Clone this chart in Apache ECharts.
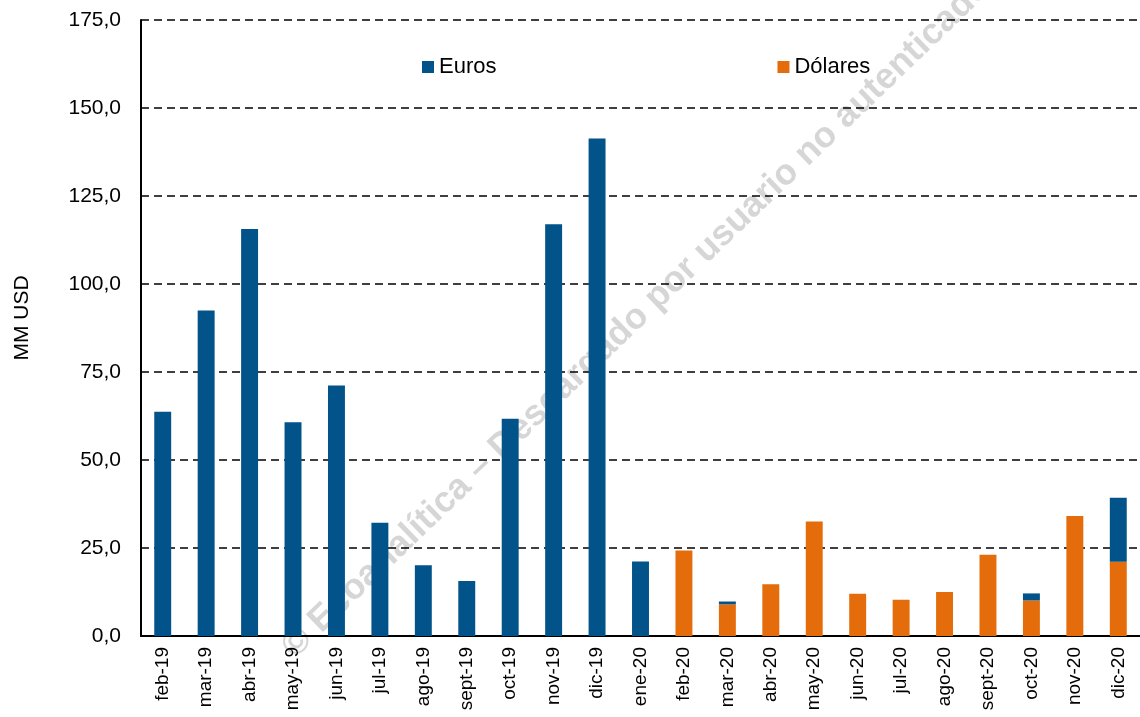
<!DOCTYPE html>
<html>
<head>
<meta charset="utf-8">
<title>Euros y Dólares</title>
<script src="https://cdn.jsdelivr.net/npm/echarts@6/dist/echarts.min.js"></script>
<style>
  html, body { margin: 0; padding: 0; background: #fff; }
  #chart { width: 1140px; height: 717px; }
</style>
</head>
<body>
<div id="chart"></div>
<script>
// meses, feb-19 a dic-20
const categories = ['feb-19', 'mar-19', 'abr-19', 'may-19', 'jun-19', 'jul-19', 'ago-19', 'sept-19',
  'oct-19', 'nov-19', 'dic-19', 'ene-20', 'feb-20', 'mar-20', 'abr-20', 'may-20', 'jun-20',
  'jul-20', 'ago-20', 'sept-20', 'oct-20', 'nov-20', 'dic-20']

// MM USD
const euros = [63.7, 92.5, 115.6, 60.7, 71.2, 32.2, 20.1, 15.6, 61.7, 117.0, 141.3, 21.2,
  0, 0.8, 0, 0, 0, 0, 0, 0, 2.0, 0, 18.2]
const dolares = [0, 0, 0, 0, 0, 0, 0, 0, 0, 0, 0, 0,
  24.3, 9.0, 14.7, 32.5, 12.0, 10.3, 12.5, 23.1, 10.1, 34.1, 21.1]

const yTicks = { min: 0, max: 175, interval: 25 }

const font = 'Liberation Sans, Arial, sans-serif'

let option = {
  backgroundColor: '#fff',
  animation: false,
  textStyle: { fontFamily: font },
  graphic: [
    {
      // marca de agua
      type: 'text',
      z: 0,
      x: 288,
      y: 652,
      rotation: 0.765,
      style: {
        text: '© Ecoanalítica – Descargado por usuario no autenticado',
        fill: '#d6d6d6',
        font: 'bold 36px ' + font,
        textAlign: 'left',
        textVerticalAlign: 'middle'
      }
    }
  ],
  legend: {
    data: ['Euros', 'Dólares'],
    left: 422,
    top: 56,
    padding: 0,
    itemWidth: 12,
    itemHeight: 12,
    itemGap: 281,
    icon: 'rect',
    textStyle: { fontSize: 22, color: '#000', fontFamily: font }
  },
  grid: {
    left: 141,
    right: -6,
    top: 20,
    bottom: 81
  },
  xAxis: {
    type: 'category',
    data: categories,
    axisLine: { lineStyle: { color: '#000', width: 2 } },
    axisTick: { show: false },
    axisLabel: {
      rotate: 90,
      margin: 11,
      fontSize: 19,
      color: '#000',
      interval: 0
    }
  },
  yAxis: {
    type: 'value',
    min: yTicks.min,
    max: yTicks.max,
    interval: yTicks.interval,
    name: 'MM USD',
    nameLocation: 'middle',
    nameGap: 108,
    nameTextStyle: { fontSize: 21, color: '#000', padding: [0, 0, 0, 20] },
    axisLine: { show: true, lineStyle: { color: '#000', width: 2 } },
    axisTick: { show: false },
    axisLabel: {
      fontSize: 21,
      color: '#000',
      margin: 20,
      formatter: v => v.toFixed(1).replace('.', ',')
    },
    splitLine: {
      lineStyle: { color: '#000', type: [8, 5], width: 1.5 }
    }
  },
  series: [
    {
      name: 'Dólares',
      type: 'bar',
      stack: 'total',
      barWidth: '39%',
      itemStyle: { color: '#E46C0A' },
      data: dolares
    },
    {
      name: 'Euros',
      type: 'bar',
      stack: 'total',
      barWidth: '39%',
      itemStyle: { color: '#02538A' },
      data: euros
    }
  ]
}

let myChart = echarts.init(document.getElementById('chart'))
myChart.setOption(option)
</script>
</body>
</html>
